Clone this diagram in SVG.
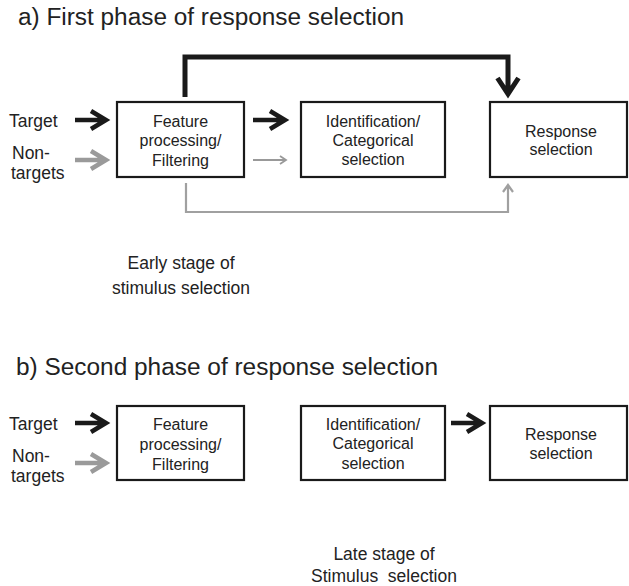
<svg xmlns="http://www.w3.org/2000/svg" width="629" height="586" viewBox="0 0 629 586">
<defs>
<style>
text{font-family:"Liberation Sans",Arial,sans-serif;fill:#222}
.title{font-size:23px}
.lbl{font-size:17.5px}
.box rect{fill:#fff;stroke:#1a1a1a;stroke-width:2.2}
.box text{font-size:16px;text-anchor:middle}
.stage{font-size:17.5px;text-anchor:middle}
.blk{fill:none;stroke:#1a1a1a;stroke-width:4.5;stroke-linejoin:miter}
.gry{fill:none;stroke:#9a9a9a;stroke-width:4.5;stroke-linejoin:miter}
.thin{fill:none;stroke:#999;stroke-width:1.8}
.big{fill:none;stroke:#1a1a1a;stroke-width:5;stroke-linejoin:miter}
.gline{fill:none;stroke:#a0a0a0;stroke-width:2.2}
</style>
</defs>

<text class="title" x="18" y="25" textLength="386" lengthAdjust="spacingAndGlyphs">a) First phase of response selection</text>

<!-- panel a labels -->
<text class="lbl" x="9" y="127">Target</text>
<text class="lbl" x="12" y="159">Non-</text>
<text class="lbl" x="11" y="179">targets</text>

<g id="a-feature" class="box">
<rect x="117" y="102" width="127" height="75"/>
<text x="180.5" y="126.5">Feature</text>
<text x="180.5" y="146">processing/</text>
<text x="180.5" y="166">Filtering</text>
</g>
<g id="a-ident" class="box">
<rect x="301" y="102" width="144" height="75"/>
<text x="373" y="127">Identification/</text>
<text x="373" y="146">Categorical</text>
<text x="373" y="165">selection</text>
</g>
<g id="a-response" class="box">
<rect x="490" y="102" width="137" height="75"/>
<text x="561" y="136.5">Response</text>
<text x="561" y="155">selection</text>
</g>

<text class="stage" x="181" y="269">Early stage of</text>
<text class="stage" x="181" y="294">stimulus selection</text>

<g id="a-connectors">
<path class="blk" d="M75,120 H105 M91,111 L106,120 L91,129"/>
<path class="gry" d="M75,160 H105 M91,151 L106,160 L91,169"/>
<path class="blk" d="M253,120 H284 M270,111 L285,120 L270,129"/>
<path class="thin" d="M253,160 H286 M280,156 L286,160 L280,164"/>
<path class="big" d="M185,97 V57 H508 V92 M497.5,78 L508,94 L518.5,78"/>
<path class="gline" d="M186,183 V212 H508 V186 M503,192 L508,185 L513,192"/>
</g>

<!-- panel b -->
<text class="title" x="16" y="375" textLength="422" lengthAdjust="spacingAndGlyphs">b) Second phase of response selection</text>

<text class="lbl" x="9" y="430">Target</text>
<text class="lbl" x="12" y="462">Non-</text>
<text class="lbl" x="11" y="482">targets</text>

<g id="b-feature" class="box">
<rect x="117" y="406" width="127" height="74"/>
<text x="180.5" y="430">Feature</text>
<text x="180.5" y="449.5">processing/</text>
<text x="180.5" y="469.5">Filtering</text>
</g>
<g id="b-ident" class="box">
<rect x="301" y="406" width="144" height="74"/>
<text x="373" y="430">Identification/</text>
<text x="373" y="449">Categorical</text>
<text x="373" y="468.5">selection</text>
</g>
<g id="b-response" class="box">
<rect x="490" y="406" width="137" height="74"/>
<text x="561" y="440">Response</text>
<text x="561" y="459">selection</text>
</g>

<g id="b-connectors">
<path class="blk" d="M75,423 H105 M91,414 L106,423 L91,432"/>
<path class="gry" d="M75,463 H105 M91,454 L106,463 L91,472"/>
<path class="blk" d="M451,423 H481 M467,414 L482,423 L467,432"/>
</g>

<text class="stage" x="384" y="560">Late stage of</text>
<text class="stage" x="384" y="581.5" xml:space="preserve">Stimulus  selection</text>
</svg>
